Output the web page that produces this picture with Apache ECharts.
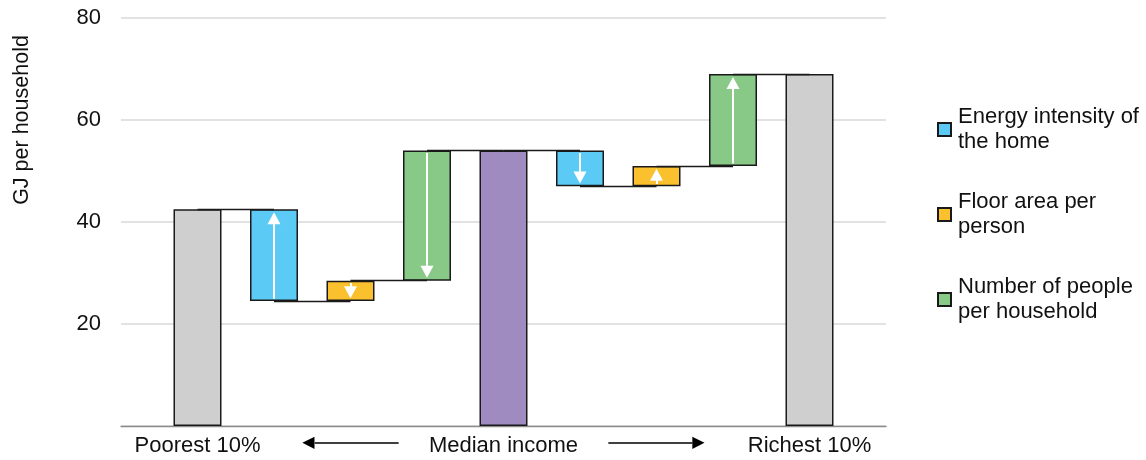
<!DOCTYPE html>
<html>
<head>
<meta charset="utf-8">
<script src="https://cdn.jsdelivr.net/npm/echarts@6/dist/echarts.min.js"></script>
<style>
  html, body { margin: 0; padding: 0; background: #fff; }
  #chart { width: 1146px; height: 460px; }
</style>
</head>
<body>
<div id="chart"></div>
<script>
// ---- data ----
const categories = ['padStart', 'Poorest 10%', 'Energy (poorest)', 'Floor (poorest)', 'People (poorest)',
  'Median income', 'Energy (richest)', 'Floor (richest)', 'People (richest)', 'Richest 10%', 'padEnd'];
const tickLabels = ['', 'Poorest 10%', '', 'LEFT', '', 'Median income', '', 'RIGHT', '', 'Richest 10%', ''];
const barKind = [null, 'total', 'energy', 'floor', 'people', 'median', 'energy', 'floor', 'people', 'total', null];
const barLow  = [null, 0, 24.5, 24.5, 28.5, 0, 47, 47, 51, 0, null];
const barHigh = [null, 42.5, 42.5, 28.5, 54, 54, 54, 51, 69, 69, null];
const arrowDir = [null, null, 'up', 'down', 'down', null, 'down', 'up', 'up', null, null];
const connectorLevel = [42.5, 24.5, 28.5, 54, 54, 47, 51, 69]; // between category i and i+1, i = 1..8
const yTicks = [0, 20, 40, 60, 80];
const legendNames = ['Energy intensity of the home', 'Floor area per person', 'Number of people per household'];
const legendText = ['Energy intensity of\nthe home', 'Floor area per\nperson', 'Number of people\nper household'];

// ---- styles ----
const FONT = 'Liberation Sans, Arial, sans-serif';
const colors = { total: '#cfcfcf', median: '#a08bc0', energy: '#5bcbf5', floor: '#fbc02d', people: '#88c987' };
const border = { borderColor: '#1a1a1a', borderWidth: 1.5 };

const chart = echarts.init(document.getElementById('chart'));

function heightsFor(kinds) {
  return categories.map((c, i) => kinds.includes(barKind[i]) ? +(barHigh[i] - barLow[i]).toFixed(3) : '-');
}

const baseData = categories.map((c, i) => barLow[i] == null ? '-' : barLow[i]);
const totalData = categories.map((c, i) => {
  if (barKind[i] === 'total' || barKind[i] === 'median') {
    return { value: barHigh[i] - barLow[i], itemStyle: { color: colors[barKind[i]] } };
  }
  return '-';
});

const connectorLines = connectorLevel.map((lvl, k) => [
  { coord: [categories[k + 1], lvl] },
  { coord: [categories[k + 2], lvl] }
]);

const padTail = 0.45;   // gap at arrow tail (value units)
const padHead = 1.75;   // arrow head centre offset from bar edge
const arrowLines = [];
categories.forEach((c, i) => {
  if (!arrowDir[i]) return;
  const lo = barLow[i], hi = barHigh[i];
  const from = arrowDir[i] === 'up' ? lo + padTail : hi - padTail;
  const to = arrowDir[i] === 'up' ? hi - padHead : lo + padHead;
  arrowLines.push([{ coord: [c, from] }, { coord: [c, to] }]);
});

const barCommon = { type: 'bar', stack: 'w', barWidth: 48, silent: true };

const option = {
  animation: false,
  backgroundColor: '#fff',
  grid: { left: 121, right: 260, top: 18, bottom: 34 },
  legend: {
    orient: 'vertical',
    left: 937,
    top: 92,
    padding: 0,
    itemGap: 10,
    itemWidth: 13,
    itemHeight: 13,
    icon: 'rect',
    data: legendNames,
    selectedMode: false,
    formatter: name => legendText[legendNames.indexOf(name)],
    textStyle: { fontFamily: FONT, fontSize: 22, color: '#111', lineHeight: 25, padding: [25, 0, 0, 2] }
  },
  xAxis: {
    type: 'category',
    data: categories,
    boundaryGap: false,
    axisTick: { show: false },
    axisLine: { lineStyle: { color: '#8c8c8c', width: 1.3 } },
    splitLine: { show: false },
    axisLabel: {
      interval: 0,
      margin: 9,
      fontFamily: FONT,
      fontSize: 22,
      color: '#111',
      formatter: (v, i) => {
        const t = tickLabels[i];
        if (t === 'LEFT') return '{h|◀}{l| }';
        if (t === 'RIGHT') return '{l| }{h|▶}';
        return t;
      },
      rich: {
        h: { fontFamily: 'DejaVu Sans', fontSize: 16, color: '#000', verticalAlign: 'middle' },
        l: { width: 84, height: 1.6, backgroundColor: '#000', fontSize: 1, lineHeight: 2, verticalAlign: 'middle' }
      }
    }
  },
  yAxis: {
    type: 'value',
    min: yTicks[0],
    max: yTicks[yTicks.length - 1],
    interval: yTicks[1] - yTicks[0],
    name: 'GJ per household',
    nameLocation: 'middle',
    nameRotate: 90,
    nameGap: 88,
    nameTextStyle: { fontFamily: FONT, fontSize: 21.5, color: '#111', padding: [0, 0, 0, 204] },
    axisLine: { show: false },
    axisTick: { show: false },
    splitLine: { lineStyle: { color: '#d9d9d9', width: 1.6 } },
    axisLabel: {
      margin: 20,
      fontFamily: FONT,
      fontSize: 22,
      color: '#111',
      formatter: v => (v === 0 ? '' : String(v))
    }
  },
  series: [
    Object.assign({}, barCommon, {
      name: 'base', data: baseData,
      itemStyle: { color: 'rgba(0,0,0,0)', borderWidth: 0 }
    }),
    Object.assign({}, barCommon, {
      name: 'Totals', data: totalData,
      itemStyle: Object.assign({ color: colors.total }, border)
    }),
    Object.assign({}, barCommon, {
      name: legendNames[0], data: heightsFor(['energy']),
      itemStyle: Object.assign({ color: colors.energy }, border)
    }),
    Object.assign({}, barCommon, {
      name: legendNames[1], data: heightsFor(['floor']),
      itemStyle: Object.assign({ color: colors.floor }, border)
    }),
    Object.assign({}, barCommon, {
      name: legendNames[2], data: heightsFor(['people']),
      itemStyle: Object.assign({ color: colors.people }, border)
    }),
    {
      name: 'connectors', type: 'line', data: categories.map(() => '-'),
      symbol: 'none', silent: true, z: 1,
      markLine: {
        silent: true, animation: false,
        symbol: ['none', 'none'],
        label: { show: false },
        lineStyle: { color: '#1a1a1a', width: 1.3, type: 'solid' },
        data: connectorLines
      }
    },
    {
      name: 'arrows', type: 'line', data: categories.map(() => '-'),
      symbol: 'none', silent: true, z: 10,
      markLine: {
        silent: true, animation: false,
        symbol: ['none', 'triangle'],
        symbolSize: [13, 12],
        label: { show: false },
        lineStyle: { color: '#ffffff', width: 2, type: 'solid' },
        data: arrowLines
      }
    }
  ]
};

chart.setOption(option);
</script>
</body>
</html>
